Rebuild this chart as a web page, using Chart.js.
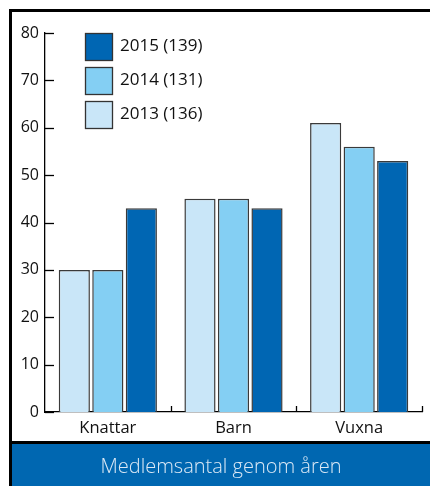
<!DOCTYPE html>
<html>
<head>
<meta charset="utf-8">
<script src="https://cdn.jsdelivr.net/npm/chart.js@4.4.1/dist/chart.umd.min.js"></script>
<style>
  html, body { margin: 0; padding: 0; background: #fff; }
  #wrap { width: 430px; height: 486px; position: relative; }
</style>
</head>
<body>
<div id="wrap"><canvas id="c" width="430" height="486"></canvas></div>
<script>
const categories = ['Knattar', 'Barn', 'Vuxna'];
const seriesLabels = ['2013 (136)', '2014 (131)', '2015 (139)'];
const values2013 = [30, 45, 61];
const values2014 = [30, 45, 56];
const values2015 = [43, 43, 53];
const yTicks = [0, 10, 20, 30, 40, 50, 60, 70, 80];
const chartTitle = 'Medlemsantal genom åren';

const colors = ['#c9e6f8', '#84cff3', '#0066b3'];
const FONT = '"Open Sans", Lato, sans-serif';

// Frame, bottom title band, inner ticks and the boxed legend
const decor = {
  id: 'decor',
  beforeDraw(chart) {
    const ctx = chart.ctx;
    ctx.save();
    ctx.fillStyle = '#fff';
    ctx.fillRect(0, 0, chart.width, chart.height);
    ctx.restore();
  },
  afterDraw(chart) {
    const ctx = chart.ctx;
    const { left, right, top, bottom } = chart.chartArea;
    const y = chart.scales.y;
    ctx.save();
    // outer frame
    ctx.fillStyle = '#000';
    ctx.fillRect(9, 9, chart.width - 9, 3);
    ctx.fillRect(9, 9, 3, chart.height - 9);
    // title band
    ctx.fillStyle = '#000';
    ctx.fillRect(12, 441, chart.width - 12, 3);
    ctx.fillStyle = '#0067b1';
    ctx.fillRect(12, 444, chart.width - 12, chart.height - 444);
    ctx.fillStyle = '#dbe9f6';
    ctx.font = '300 20px ' + FONT;
    ctx.textAlign = 'center';
    ctx.textBaseline = 'middle';
    ctx.fillText(chartTitle, 221, 467);

    // inner y ticks
    ctx.strokeStyle = '#000';
    ctx.lineWidth = 1.3;
    yTicks.forEach(v => {
      const py = Math.round(y.getPixelForValue(v)) + 0.5;
      ctx.beginPath();
      ctx.moveTo(left, py);
      ctx.lineTo(left + 9, py);
      ctx.stroke();
    });
    // x ticks at category boundaries
    const n = categories.length;
    const step = (right - left) / n;
    for (let i = 1; i <= n; i++) {
      const px = Math.round(left + step * i) + 0.5;
      ctx.beginPath();
      ctx.moveTo(px, bottom);
      ctx.lineTo(px, bottom - 6);
      ctx.stroke();
    }

    // legend (newest year first)
    const ds = chart.data.datasets.slice().reverse();
    ctx.font = '17px ' + FONT;
    ctx.textAlign = 'left';
    ctx.textBaseline = 'middle';
    ds.forEach((d, i) => {
      const bx = 85.5, by = 33.5 + i * 34, s = 27;
      ctx.fillStyle = d.backgroundColor;
      ctx.fillRect(bx, by, s, s);
      ctx.strokeStyle = '#333';
      ctx.lineWidth = 1.3;
      ctx.strokeRect(bx, by, s, s);
      ctx.fillStyle = '#111';
      ctx.fillText(d.label, 120, by + 13);
    });
    ctx.restore();
  }
};

new Chart(document.getElementById('c'), {
  type: 'bar',
  data: {
    labels: categories,
    datasets: [
      { label: seriesLabels[0], data: values2013, backgroundColor: colors[0] },
      { label: seriesLabels[1], data: values2014, backgroundColor: colors[1] },
      { label: seriesLabels[2], data: values2015, backgroundColor: colors[2] }
    ].map(d => Object.assign(d, {
      borderColor: '#3a3a3a',
      borderWidth: 1.5,
      barPercentage: 0.93,
      categoryPercentage: 0.8
    }))
  },
  options: {
    responsive: false,
    animation: false,
    devicePixelRatio: 1,
    layout: { padding: { left: 0, top: 33, right: 8, bottom: 44 } },
    plugins: { legend: { display: false }, tooltip: { enabled: false } },
    scales: {
      x: {
        grid: { display: false, drawTicks: false },
        border: { display: true, color: '#000', width: 1.3 },
        ticks: { color: '#111', font: { family: FONT, size: 16.5 }, padding: 6 },
        afterFit(s) { s.height = 30; }
      },
      y: {
        min: 0, max: 80,
        afterBuildTicks(s) { s.ticks = yTicks.map(v => ({ value: v })); },
        grid: { display: false, drawTicks: false },
        border: { display: true, color: '#000', width: 1.3 },
        ticks: { color: '#111', font: { family: FONT, size: 16 }, padding: 6 },
        afterFit(s) { s.width = 45; }
      }
    }
  },
  plugins: [decor]
});
</script>
</body>
</html>
